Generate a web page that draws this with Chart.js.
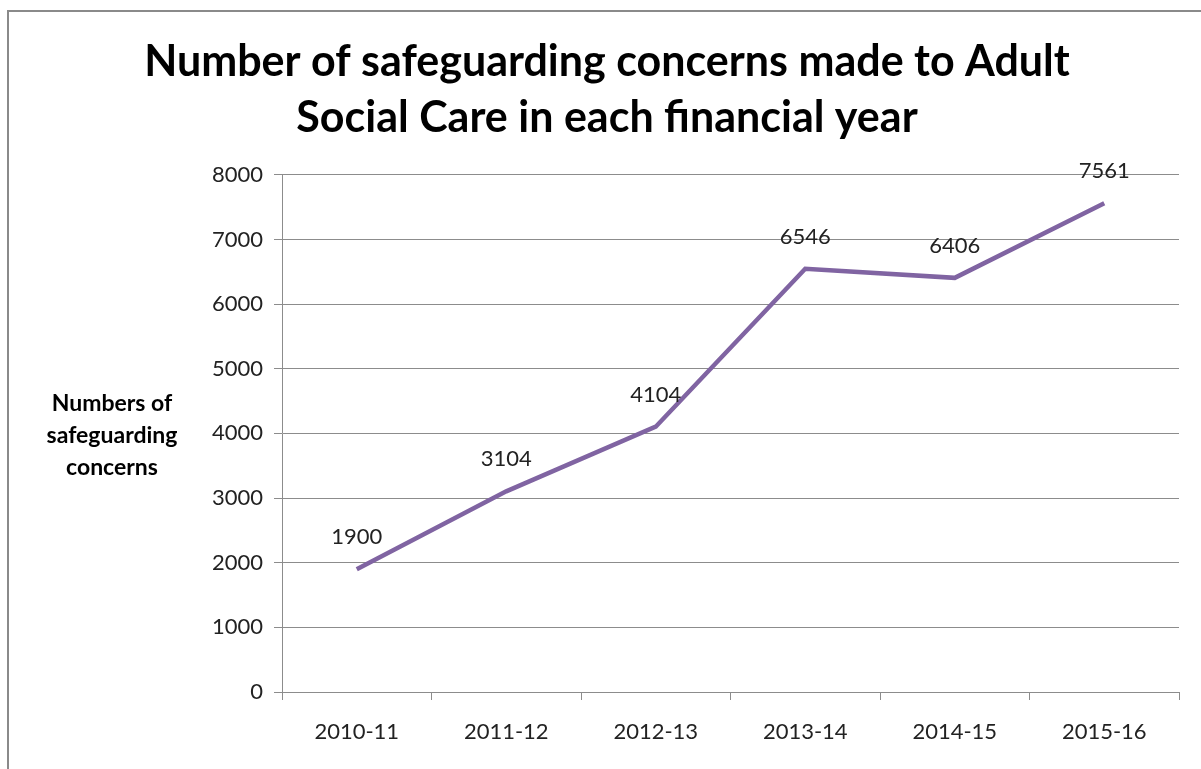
<!DOCTYPE html>
<html>
<head>
<meta charset="utf-8">
<title>Safeguarding concerns</title>
<script src="https://cdn.jsdelivr.net/npm/chart.js@4/dist/chart.umd.min.js"></script>
<style>
  html, body { margin: 0; padding: 0; background: #fff; }
  #wrap { position: relative; width: 1201px; height: 769px; overflow: hidden; }
  #frame { position: absolute; left: 7px; top: 10px; width: 1300px; height: 900px;
           border-left: 2px solid #8a8a8a; border-top: 2px solid #8a8a8a; pointer-events: none; }
  canvas { position: absolute; left: 0; top: 0; }
</style>
</head>
<body>
<div id="wrap">
  <canvas id="concernsChart" width="1201" height="769"></canvas>
  <div id="frame"></div>
</div>
<script>
// Financial years and number of concerns recorded
const years = ['2010-11', '2011-12', '2012-13', '2013-14', '2014-15', '2015-16'];
const concerns = [1900, 3104, 4104, 6546, 6406, 7561];
const yTicks = [0, 1000, 2000, 3000, 4000, 5000, 6000, 7000, 8000];
const titleLines = ['Number of safeguarding concerns made to Adult', 'Social Care in each financial year'];
const yTitleLines = ['Numbers of', 'safeguarding', 'concerns'];

const FONT = 'Lato, "Open Sans", sans-serif';
const gridGrey = '#8c8c8c';

// Value labels drawn just above each point
const pointLabels = {
    id: 'pointLabels',
    afterDatasetsDraw(chart) {
        const ctx = chart.ctx;
        const meta = chart.getDatasetMeta(0);
        ctx.save();
        ctx.font = '22px ' + FONT;
        ctx.fillStyle = '#222';
        ctx.textAlign = 'center';
        ctx.textBaseline = 'middle';
        meta.data.forEach((pt, i) => {
            ctx.fillText(String(concerns[i]), pt.x, pt.y - 32);
        });
        ctx.restore();
    }
};

// Horizontal y-axis caption to the left of the tick labels
const yCaption = {
    id: 'yCaption',
    afterDraw(chart) {
        const ctx = chart.ctx;
        ctx.save();
        ctx.font = 'bold 23px ' + FONT;
        ctx.fillStyle = '#000';
        ctx.textAlign = 'center';
        ctx.textBaseline = 'middle';
        yTitleLines.forEach((line, i) => {
            ctx.fillText(line, 112, 404 + i * 32);
        });
        ctx.restore();
    }
};

document.addEventListener('DOMContentLoaded', function() {
    const ctx = document.querySelector('#concernsChart').getContext('2d');
    new Chart(ctx, {
        type: 'line',
        data: {
            labels: years,
            datasets: [{
                label: 'Safeguarding concerns',
                data: concerns,
                borderColor: '#8064a2',
                borderWidth: 4.5,
                pointRadius: 0,
                tension: 0,
                fill: false
            }]
        },
        options: {
            responsive: false,
            animation: false,
            // left padding + y axis width put the plot edge at x=282
            layout: { padding: { left: 35, right: 22, top: 0, bottom: 0 } },
            plugins: {
                legend: { display: false },
                tooltip: { enabled: false },
                title: {
                    display: true,
                    text: titleLines,
                    color: '#000',
                    font: { family: FONT, size: 43, weight: 'bold', lineHeight: 1.3 },
                    padding: { top: 34, bottom: 29 }
                }
            },
            scales: {
                x: {
                    offset: true,
                    grid: {
                        offset: true,
                        drawOnChartArea: false,
                        drawTicks: true,
                        tickLength: 8,
                        color: gridGrey
                    },
                    border: { display: true, color: gridGrey },
                    ticks: {
                        color: '#222',
                        padding: 19,
                        font: { family: FONT, size: 22 }
                    },
                    afterFit(scale) { scale.height = 77; }
                },
                y: {
                    min: 0,
                    max: 8000,
                    afterBuildTicks(scale) {
                        scale.ticks = yTicks.map(v => ({ value: v }));
                    },
                    grid: {
                        color: gridGrey,
                        tickLength: 8,
                        drawTicks: true
                    },
                    border: { display: true, color: gridGrey },
                    ticks: {
                        color: '#222',
                        padding: 11,
                        font: { family: FONT, size: 22 },
                        callback: value => String(value)
                    },
                    afterFit(scale) { scale.width = 247; }
                }
            }
        },
        plugins: [pointLabels, yCaption]
    });
});
</script>
</body>
</html>
